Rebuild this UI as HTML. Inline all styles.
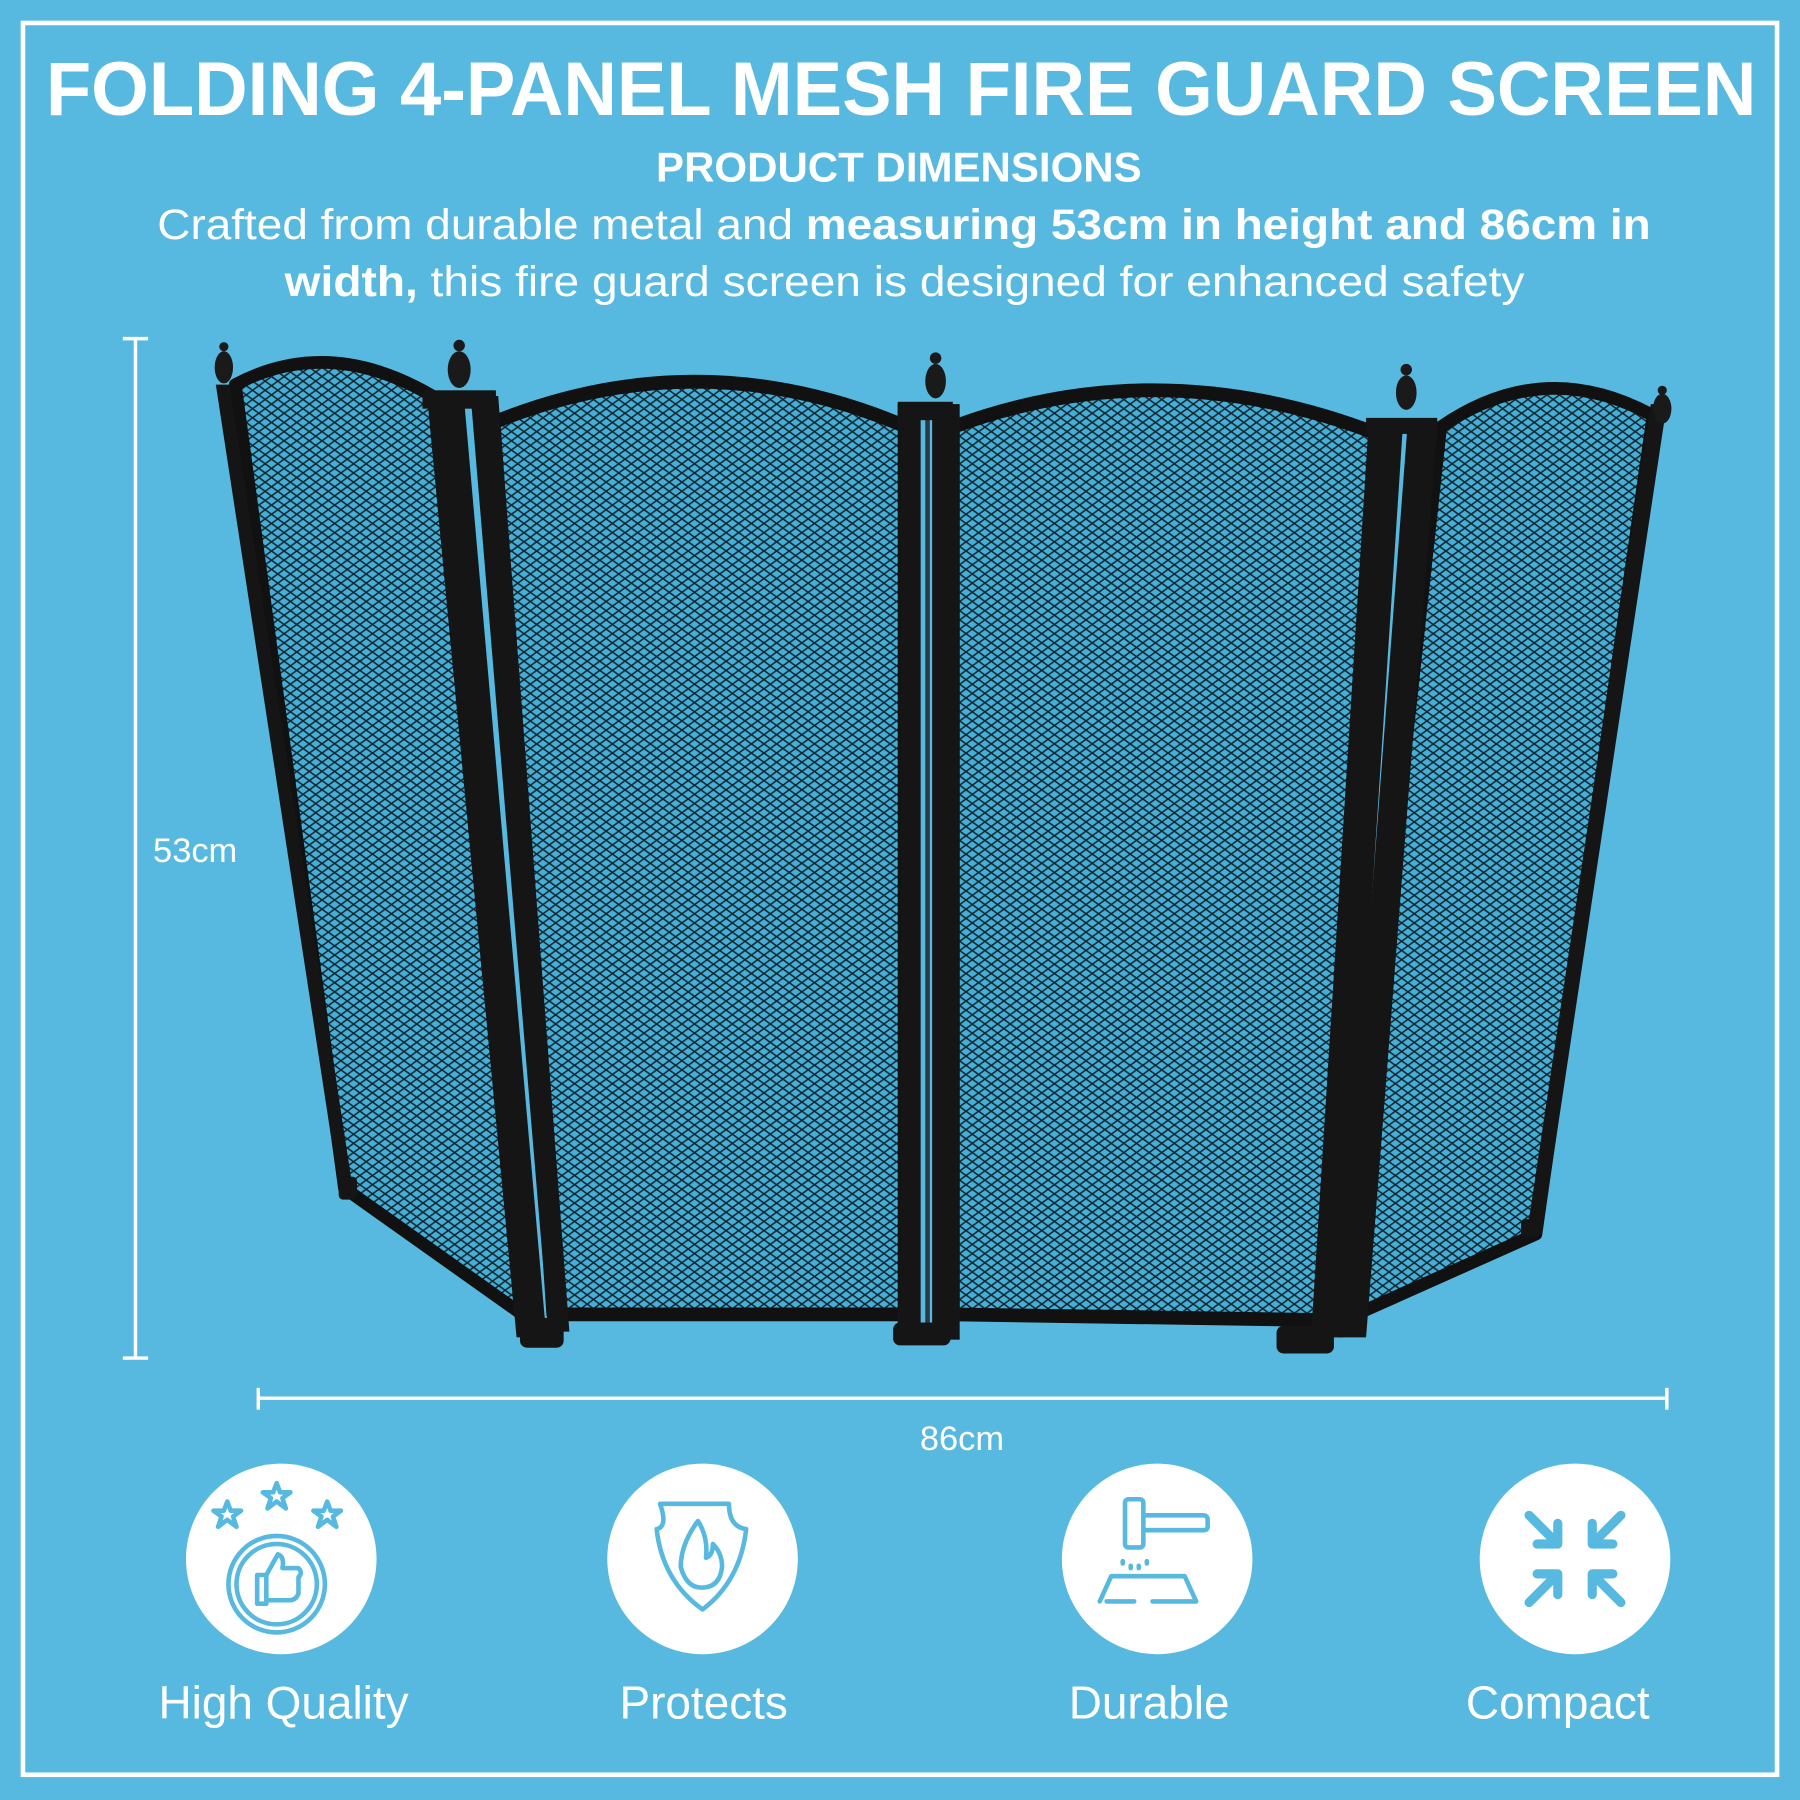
<!DOCTYPE html>
<html><head><meta charset="utf-8"><style>
html,body{margin:0;padding:0;background:#58b9e0;}
svg{display:block;}
text{font-family:"Liberation Sans",sans-serif;fill:#fff;}
</style></head><body>
<svg width="1800" height="1800" viewBox="0 0 1568 1568" xmlns="http://www.w3.org/2000/svg">
<defs>
<pattern id="mesh" width="11" height="8" patternUnits="userSpaceOnUse">
<rect width="11" height="8" fill="#45afd8"/>
<path d="M0 4 L5.5 0 L11 4 L5.5 8 Z" fill="none" stroke="#12262e" stroke-width="1.4"/>
</pattern>
</defs>
<rect width="1568" height="1568" fill="#58b9e0"/>
<rect x="20" y="20" width="1528" height="1526" fill="none" stroke="#fff" stroke-width="4"/>

<text x="785" y="100" text-anchor="middle" font-size="66" font-weight="bold" textLength="1490" lengthAdjust="spacingAndGlyphs">FOLDING 4-PANEL MESH FIRE GUARD SCREEN</text>
<text x="783" y="158" text-anchor="middle" font-size="36" font-weight="bold" textLength="423" lengthAdjust="spacingAndGlyphs">PRODUCT DIMENSIONS</text>
<text x="137" y="208" font-size="37" textLength="1301" lengthAdjust="spacingAndGlyphs">Crafted from durable metal and <tspan font-weight="bold">measuring 53cm in height and 86cm in</tspan></text>
<text x="248" y="258" font-size="37" textLength="1080" lengthAdjust="spacingAndGlyphs"><tspan font-weight="bold">width,</tspan> this fire guard screen is designed for enhanced safety</text>

<g stroke="#fff" stroke-width="3">
<line x1="118" y1="295" x2="118" y2="1183"/>
<line x1="107" y1="295" x2="129" y2="295"/>
<line x1="107" y1="1183" x2="129" y2="1183"/>
<line x1="225" y1="1218" x2="1452" y2="1218"/>
<line x1="225" y1="1209" x2="225" y2="1228"/>
<line x1="1452" y1="1209" x2="1452" y2="1228"/>
</g>
<text x="170" y="751" text-anchor="middle" font-size="30">53cm</text>
<text x="838" y="1263" text-anchor="middle" font-size="30">86cm</text>

<g>
<path d="M205 335 Q290 290 385 350 L462 1150 L300 1035 Z" fill="url(#mesh)" stroke="#111" stroke-width="11" stroke-linejoin="round"/>
<path d="M430 368 Q610 295 790 372 L790 1145 L482 1145 Z" fill="url(#mesh)" stroke="#111" stroke-width="12" stroke-linejoin="round"/>
<path d="M830 372 Q1010 305 1200 378 L1160 1150 L830 1145 Z" fill="url(#mesh)" stroke="#111" stroke-width="12" stroke-linejoin="round"/>
<path d="M1255 372 Q1345 310 1440 362 L1338 1075 L1170 1150 Z" fill="url(#mesh)" stroke="#111" stroke-width="11" stroke-linejoin="round"/>
<g fill="#151515">
<polygon points="188,335 200,335 308,1040 296,1040"/>
<polygon points="372,345 404,345 476,1165 450,1165"/>
<polygon points="410,345 434,345 496,1160 478,1160"/>
<rect x="368" y="340" width="64" height="16"/>
<rect x="782" y="352" width="20" height="815"/>
<rect x="806" y="352" width="4" height="815" fill="#2a3a40"/>
<rect x="812" y="352" width="24" height="815"/>
<rect x="782" y="350" width="48" height="16"/>
<polygon points="1192,372 1222,372 1170,1165 1142,1165"/>
<polygon points="1226,372 1252,372 1190,1165 1166,1165"/>
<rect x="1190" y="364" width="62" height="14"/>
<polygon points="1438,352 1452,352 1343,1075 1330,1075"/>
<rect x="453" y="1148" width="38" height="26" rx="6"/>
<rect x="778" y="1152" width="50" height="20" rx="6"/>
<rect x="1112" y="1155" width="50" height="24" rx="6"/>
<rect x="295" y="1025" width="16" height="20" rx="4"/>
<rect x="1325" y="1062" width="16" height="16" rx="4"/>
</g>
<g fill="#1a1a1a">
<ellipse cx="195" cy="320" rx="8" ry="14"/><circle cx="195" cy="302" r="4"/>
<ellipse cx="400" cy="322" rx="10" ry="16"/><circle cx="400" cy="301" r="5"/>
<ellipse cx="815" cy="332" rx="9" ry="15"/><circle cx="815" cy="312" r="5"/>
<ellipse cx="1225" cy="342" rx="9" ry="15"/><circle cx="1225" cy="322" r="5"/>
<ellipse cx="1448" cy="356" rx="8" ry="13"/><circle cx="1448" cy="340" r="4"/>
</g>
</g>

<g fill="#fff">
<circle cx="245" cy="1358" r="83"/>
<circle cx="612" cy="1358" r="83"/>
<circle cx="1008" cy="1358" r="83"/>
<circle cx="1372" cy="1358" r="83"/>
</g>
<g fill="none" stroke="#58b9e0" stroke-width="4" stroke-linejoin="round" stroke-linecap="round">
<path d="M228 1302 l3 8 9 0 -7 5 3 9 -8 -6 -8 6 3 -9 -7 -5 9 0z" transform="translate(13 -10)"/>
<path d="M228 1302 l3 8 9 0 -7 5 3 9 -8 -6 -8 6 3 -9 -7 -5 9 0z" transform="translate(-30 6)"/>
<path d="M228 1302 l3 8 9 0 -7 5 3 9 -8 -6 -8 6 3 -9 -7 -5 9 0z" transform="translate(57 6)"/>
<circle cx="241" cy="1380" r="42"/><circle cx="241" cy="1380" r="35"/>
<path d="M224 1372 h8 v25 h-8z M232 1372 l10 -18 q6 2 4 12 h14 q4 4 0 8 v14 q-2 6 -8 6 h-20"/>
<path d="M575 1310 h60 q0 20 15 22 q-5 45 -38 70 q-35 -25 -40 -70 q10 -2 3 -22z"/>
<path d="M608 1325 q-15 20 -15 40 q5 18 18 18 q16 0 18 -18 q0 -12 -8 -20 q0 10 -6 12 q2 -18 -7 -32z"/>
<rect x="980" y="1306" width="16" height="42" rx="3"/>
<path d="M996 1320 h52 q4 0 4 4 v6 q0 3 -4 3 h-52"/>
<path d="M958 1395 l10 -22 h64 l10 22 h-38 M964 1395 h24"/>
<path d="M978 1360 v2 M985 1364 v2 M992 1364 v2 M999 1360 v2"/>
<g stroke-width="8">
<path d="M1332 1320 l25 25 M1357 1327 v18 h-18"/>
<path d="M1412 1320 l-25 25 M1387 1327 v18 h18"/>
<path d="M1332 1396 l25 -25 M1357 1389 v-18 h-18"/>
<path d="M1412 1396 l-25 -25 M1387 1389 v-18 h18"/>
</g>
</g>
<text x="247" y="1497" text-anchor="middle" font-size="40">High Quality</text>
<text x="613" y="1497" text-anchor="middle" font-size="40">Protects</text>
<text x="1001" y="1497" text-anchor="middle" font-size="40">Durable</text>
<text x="1357" y="1497" text-anchor="middle" font-size="40">Compact</text>
</svg>
</body></html>
